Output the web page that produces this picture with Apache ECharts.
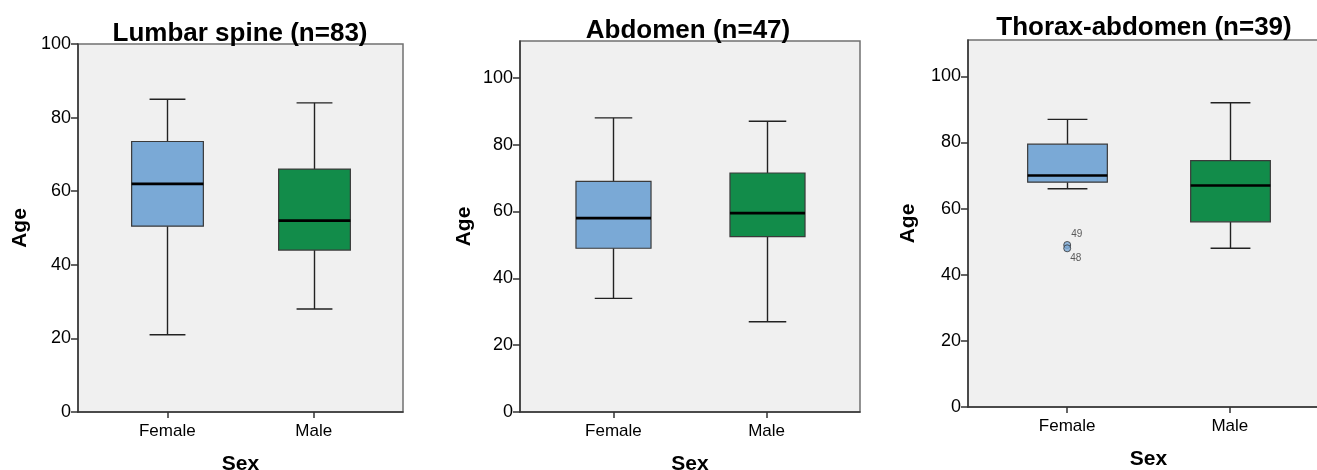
<!DOCTYPE html>
<html>
<head>
<meta charset="utf-8">
<script src="https://cdn.jsdelivr.net/npm/echarts@6/dist/echarts.min.js"></script>
<style>
  html, body { margin: 0; padding: 0; background: #fff; }
  #chart { width: 1317px; height: 470px; }
</style>
</head>
<body>
<div id="chart"></div>
<script>
(() => {
  "use strict";

  // categories on the x axis (Female = 1, Male = 2)
  const sexes = ["Female", "Male"];
  // [min, q1, median, q3, max] per sex
  const lumbarStats = [[21, 50.5, 62, 73.5, 85], [28, 44, 52, 66, 84]];
  const abdomenStats = [[34, 49, 58, 69, 88], [27, 52.5, 59.5, 71.5, 87]];
  const thoraxStats = [[66, 68, 70, 79.5, 87], [48, 56, 67, 74.5, 92]];
  // outliers: [sex index, age, case number]
  const thoraxOutliers = [[1, 49, "49"], [1, 48, "48"]];
  const panelTitles = ["Lumbar spine (n=83)", "Abdomen (n=47)", "Thorax-abdomen (n=39)"];
  const panelYMax = [100, 111, 111];
  const yTicks = [0, 20, 40, 60, 80, 100];

  const FONT = "'Liberation Sans', Arial, sans-serif";
  const FILLS = ["#7aa9d6", "#128c4a"];
  const BOX_RATIO = 0.49;

  const panels = [
    { left: 78, top: 44, width: 325, height: 368, titleX: 235, titleTop: 16, nameGap: 47 },
    { left: 520, top: 41, width: 340, height: 371, titleX: 683, titleTop: 13, nameGap: 45 },
    { left: 968, top: 40, width: 361, height: 367, titleX: 1139, titleTop: 10, nameGap: 49 },
  ];

  function renderBox(params, api) {
    const x = api.value(0);
    const lo = api.coord([x, api.value(1)]);
    const q1 = api.coord([x, api.value(2)]);
    const med = api.coord([x, api.value(3)]);
    const q3 = api.coord([x, api.value(4)]);
    const hi = api.coord([x, api.value(5)]);
    const unit = api.size([1, 0])[0];
    const half = unit * BOX_RATIO / 2;
    const cap = half / 2;
    const cx = Math.round(lo[0]) + 0.5;
    const whisker = { stroke: "#222", lineWidth: 1.4 };
    return {
      type: "group",
      children: [
        { type: "line", shape: { x1: cx, y1: hi[1], x2: cx, y2: q3[1] }, style: whisker },
        { type: "line", shape: { x1: cx, y1: q1[1], x2: cx, y2: lo[1] }, style: whisker },
        { type: "line", shape: { x1: cx - cap, y1: hi[1], x2: cx + cap, y2: hi[1] }, style: whisker },
        { type: "line", shape: { x1: cx - cap, y1: lo[1], x2: cx + cap, y2: lo[1] }, style: whisker },
        {
          type: "rect",
          shape: { x: cx - half, y: q3[1], width: half * 2, height: q1[1] - q3[1] },
          style: { fill: FILLS[params.dataIndex], stroke: "#3a3a3a", lineWidth: 1.2 },
        },
        { type: "line", shape: { x1: cx - half, y1: med[1], x2: cx + half, y2: med[1] }, style: { stroke: "#000", lineWidth: 2.6 } },
      ],
    };
  }

  const allStats = [lumbarStats, abdomenStats, thoraxStats];

  const option = {
    animation: false,
    backgroundColor: "#fff",
    title: panels.map((p, i) => ({
      text: panelTitles[i],
      left: p.titleX,
      top: p.titleTop,
      textAlign: "center",
      textStyle: { fontFamily: FONT, fontSize: 26, fontWeight: "bold", color: "#000" },
    })),
    grid: panels.map((p) => ({
      left: p.left, top: p.top, width: p.width, height: p.height,
      outerBoundsMode: "none",
      containLabel: false,
      show: true, backgroundColor: "#f0f0f0", borderColor: "#707070", borderWidth: 1.5,
    })),
    xAxis: panels.map((p, i) => ({
      type: "value",
      gridIndex: i,
      min: 0.39,
      max: 2.61,
      name: "Sex",
      nameLocation: "middle",
      nameGap: 42,
      nameTextStyle: { fontFamily: FONT, fontSize: 21, fontWeight: "bold", color: "#000" },
      axisLine: { show: true, onZero: false, lineStyle: { color: "#333", width: 1.5 } },
      axisTick: { show: true, length: 6, customValues: [1, 2], lineStyle: { color: "#333", width: 1.5 } },
      axisLabel: {
        customValues: [1, 2],
        margin: 11,
        formatter: (v) => sexes[Math.round(v) - 1] || "",
        fontFamily: FONT, fontSize: 17, color: "#000",
      },
      splitLine: { show: false },
    })),
    yAxis: panels.map((p, i) => ({
      type: "value",
      gridIndex: i,
      min: 0,
      max: panelYMax[i],
      name: "Age",
      nameLocation: "middle",
      nameGap: p.nameGap,
      nameTextStyle: { fontFamily: FONT, fontSize: 21, fontWeight: "bold", color: "#000" },
      axisLine: { show: true, lineStyle: { color: "#333", width: 1.5 } },
      axisTick: { show: true, length: 7, customValues: yTicks, lineStyle: { color: "#333", width: 1.5 } },
      axisLabel: { customValues: yTicks, margin: 7, fontFamily: FONT, fontSize: 18, color: "#000" },
      splitLine: { show: false },
    })),
    series: [
      ...allStats.map((stats, i) => ({
        type: "custom",
        xAxisIndex: i,
        yAxisIndex: i,
        clip: false,
        renderItem: renderBox,
        encode: { x: 0, y: [1, 2, 3, 4, 5] },
        data: stats.map((s, k) => [k + 1, ...s]),
      })),
      {
        type: "scatter",
        xAxisIndex: 2,
        yAxisIndex: 2,
        symbol: "circle",
        symbolSize: 7,
        itemStyle: { color: FILLS[0], borderColor: "#333", borderWidth: 1 },
        label: {
          show: true,
          position: "right",
          distance: 0,
          fontFamily: FONT,
          fontSize: 10,
          color: "#333",
          formatter: (p) => p.data.value[2],
        },
        data: thoraxOutliers.map((o, k) => ({
          value: o,
          label: { offset: k === 0 ? [0, -11] : [-1, 10] },
        })),
      },
    ],
  };

  const chart = echarts.init(document.getElementById("chart"), null, { renderer: "canvas" });
  chart.setOption(option);
})();
</script>
</body>
</html>
